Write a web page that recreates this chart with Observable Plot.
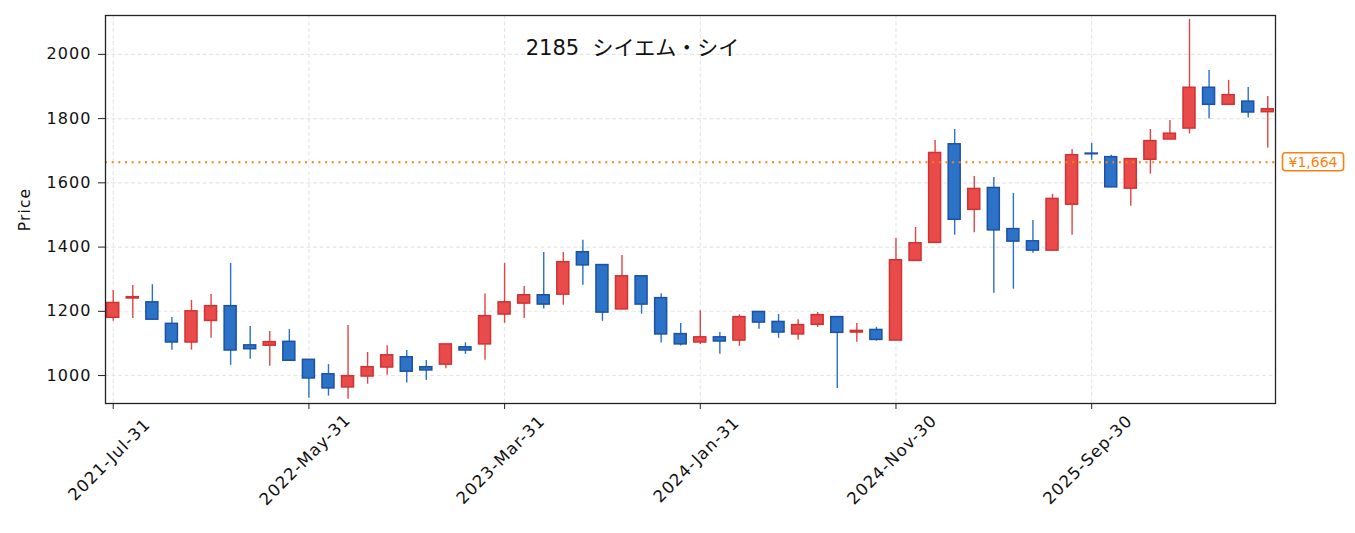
<!DOCTYPE html>
<html><head><meta charset="utf-8">
<script src="https://cdn.jsdelivr.net/npm/d3@7"></script>
<script src="https://cdn.jsdelivr.net/npm/@observablehq/plot@0.6"></script>
<style>
body{margin:0;background:#fff;font-family:"DejaVu Sans","Noto Sans CJK JP",sans-serif;}
#chart{position:relative;width:1355px;height:533px;}
#chart svg text{letter-spacing:1.1px;}
#chart svg .ttl text, #chart svg .reflabel text{letter-spacing:0;}
</style></head><body><div id="chart"></div>
<script>
const months = [
 "2021-07","2021-08","2021-09","2021-10","2021-11","2021-12",
 "2022-01","2022-02","2022-03","2022-04","2022-05","2022-06","2022-07","2022-08","2022-09","2022-10","2022-11","2022-12",
 "2023-01","2023-02","2023-03","2023-04","2023-05","2023-06","2023-07","2023-08","2023-09","2023-10","2023-11","2023-12",
 "2024-01","2024-02","2024-03","2024-04","2024-05","2024-06","2024-07","2024-08","2024-09","2024-10","2024-11","2024-12",
 "2025-01","2025-02","2025-03","2025-04","2025-05","2025-06","2025-07","2025-08","2025-09","2025-10","2025-11","2025-12",
 "2026-01","2026-02","2026-03","2026-04","2026-05","2026-06"];
const open  = [1180,1240,1228,1161,1103,1170, 1216,1094,1093,1105,1049,1004,963,997,1025,1057,1026,1034,
 1088,1097,1190,1224,1250,1252,1384,1344,1206,1309,1241,1129, 1103,1119,1109,1198,1167,1128,1158,1182,1134,1142,1109,1357,
 1413,1720,1516,1584,1456,1418,1389,1532,1691,1680,1582,1672, 1735,1769,1896,1843,1853,1820];
const high  = [1265,1280,1283,1181,1234,1252, 1349,1153,1137,1143,1050,1034,1156,1072,1093,1078,1047,1098,
 1102,1254,1349,1277,1383,1383,1421,1345,1374,1310,1255,1162, 1202,1134,1189,1199,1190,1174,1196,1183,1162,1150,1427,1461,
 1732,1766,1620,1617,1567,1483,1564,1704,1723,1686,1675,1766, 1794,2109,1950,1919,1897,1869];
const low   = [1169,1178,1172,1079,1079,1116, 1032,1051,1029,1045,929,936,926,973,1001,977,985,1021,
 1066,1048,1163,1178,1207,1219,1281,1169,1205,1191,1101,1092, 1097,1066,1091,1144,1116,1110,1150,960,1104,1107,1108,1356,
 1412,1437,1445,1256,1269,1381,1388,1437,1670,1585,1527,1627, 1734,1752,1799,1842,1802,1708];
const close = [1226,1244,1174,1103,1200,1216, 1078,1082,1104,1046,991,960,998,1026,1063,1012,1016,1097,
 1078,1185,1228,1250,1221,1353,1343,1196,1309,1221,1128,1097, 1119,1106,1182,1165,1134,1157,1188,1133,1139,1111,1359,1412,
 1693,1485,1581,1452,1417,1389,1550,1686,1689,1586,1674,1730, 1753,1896,1843,1873,1819,1829];
const tickMonths = ["2021-07","2022-05","2023-03","2024-01","2024-11","2025-09"];
const tickLabels = ["2021-Jul-31","2022-May-31","2023-Mar-31","2024-Jan-31","2024-Nov-30","2025-Sep-30"];
const yTicks = [1000,1200,1400,1600,1800,2000];
const refPrice = 1664;
const refLabel = "¥1,664";
const titleText = "2185  シイエム・シイ";
const yLabel = "Price";

const RED_FILL = "#e84b49", RED_STROKE = "#cf3333", RED_WICK = "#e24444";
const BLUE_FILL = "#2c72c7", BLUE_STROKE = "#1b52a6", BLUE_WICK = "#2b6fc8";
const ORANGE = "#ff7f0e";
const FONT = '"DejaVu Sans", "Noto Sans CJK JP", sans-serif';

const data = months.map((m, i) => ({
  month: m, open: open[i], high: high[i], low: low[i], close: close[i], up: close[i] >= open[i]
}));
const ticks = tickMonths.map((m, i) => ({month: m, label: tickLabels[i]}));

const chart = Plot.plot({
  width: 1355, height: 533,
  marginLeft: 105, marginRight: 80, marginTop: 15, marginBottom: 130,
  style: {fontFamily: FONT, fontSize: "16px", color: "#111", background: "#fff"},
  x: {type: "band", domain: months, paddingInner: 0.387, paddingOuter: 0.088, axis: null},
  y: {domain: [913, 2121], axis: null},
  marks: [
    Plot.gridY(yTicks, {stroke: "#e6e6e6", strokeOpacity: 1, strokeDasharray: "4,2.5", strokeWidth: 1.1}),
    Plot.gridX(tickMonths, {stroke: "#e6e6e6", strokeOpacity: 1, strokeDasharray: "4,2.5", strokeWidth: 1.1}),
    Plot.ruleX(data, {x: "month", y1: "low", y2: "high", stroke: d => d.up ? RED_WICK : BLUE_WICK, strokeWidth: 1.4}),
    Plot.barY(data, {x: "month", y1: d => Math.min(d.open, d.close), y2: d => Math.max(d.open, d.close),
      fill: d => d.up ? RED_FILL : BLUE_FILL, stroke: d => d.up ? RED_STROKE : BLUE_STROKE, strokeWidth: 1.5}),
    Plot.ruleY([refPrice], {stroke: ORANGE, strokeDasharray: "2,4.67", strokeWidth: 2}),
    Plot.frame({stroke: "#222", strokeWidth: 1.3}),
    Plot.axisY(yTicks, {anchor: "left", tickSize: 7, tickPadding: 7, fontSize: 16, label: null, stroke: "#222", fill: "#111",
      tickFormat: d => String(d)}),
    Plot.axisX(tickMonths, {anchor: "bottom", tickSize: 6, tickFormat: () => "", label: null, stroke: "#222"}),
    Plot.text(ticks, {x: "month", text: "label", frameAnchor: "bottom", dy: 60, rotate: -45, textAnchor: "middle", fontSize: 16.5, fill: "#111"}),
    Plot.text([yLabel], {frameAnchor: "left", dx: -80, rotate: -90, textAnchor: "middle", fontSize: 15.5, fill: "#111"}),
    Plot.text([titleText], {frameAnchor: "top", dy: 25, dx: -58, fontSize: 21, fill: "#111", className: "ttl"}),
    Plot.text([{v: refPrice, label: refLabel}], {y: "v", text: "label", frameAnchor: "right", dx: 13, textAnchor: "start",
      fontSize: 14, fill: ORANGE, className: "reflabel"})
  ]
});
document.getElementById("chart").appendChild(chart);

// box behind the reference price label
const g = chart.querySelector("g.reflabel");
if (g) {
  g.querySelectorAll("text").forEach(t => {
    const b = t.getBBox();
    const r = document.createElementNS("http://www.w3.org/2000/svg", "rect");
    r.setAttribute("x", b.x - 6);
    r.setAttribute("y", b.y - 1);
    r.setAttribute("width", b.width + 12);
    r.setAttribute("height", b.height + 2);
    r.setAttribute("rx", 3);
    r.setAttribute("fill", "#fff");
    r.setAttribute("stroke", ORANGE);
    r.setAttribute("stroke-width", 1.6);
    r.setAttribute("transform", t.getAttribute("transform") || "");
    t.parentNode.insertBefore(r, t);
  });
}
</script></body></html>
